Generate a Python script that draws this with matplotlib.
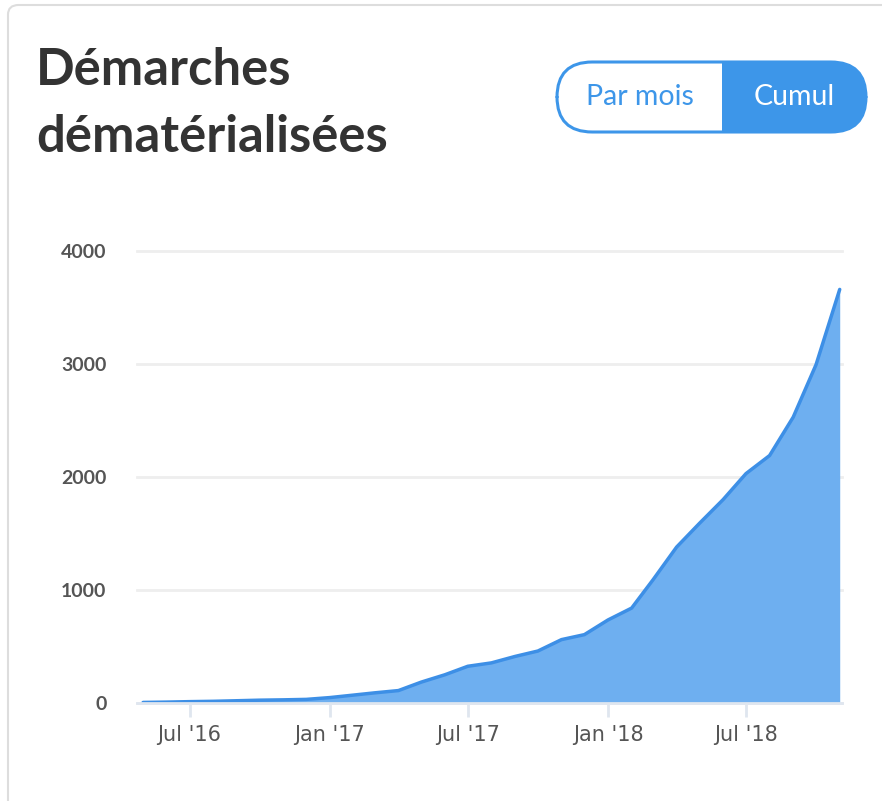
import datetime as dt
import matplotlib
matplotlib.use("Agg")
import matplotlib.pyplot as plt
import matplotlib.dates as mdates
from matplotlib.patches import FancyBboxPatch, Rectangle

# monthly cumulative counts, May 2016 -> Nov 2018
months = [dt.date(2016 + (4 + i) // 12, (4 + i) % 12 + 1, 1) for i in range(31)]
cumul = [5, 8, 12, 15, 20, 25, 28, 32,
         48, 70, 90, 110, 185, 250, 325, 355, 412, 460, 561, 605,
         735, 840, 1090, 1380, 1590, 1800, 2030, 2190, 2530, 2995, 3660]
yticks = [0, 1000, 2000, 3000, 4000]
xticks = [dt.date(2016, 7, 1), dt.date(2017, 1, 1), dt.date(2017, 7, 1),
          dt.date(2018, 1, 1), dt.date(2018, 7, 1)]
xlabels = ["Jul '16", "Jan '17", "Jul '17", "Jan '18", "Jul '18"]

W, H = 882, 801
fig = plt.figure(figsize=(W / 100, H / 100), dpi=100)
fig.patch.set_facecolor("white")
font = ["Lato", "DejaVu Sans"]

# card border
card = FancyBboxPatch((8 / W, 1 - 900 / H), 900 / W, 895 / H,
                      boxstyle="round,pad=0,rounding_size=0.012",
                      transform=fig.transFigure, facecolor="white",
                      edgecolor="#dddddd", linewidth=1.5, zorder=-5)
fig.patches.append(card)

fig.text(36 / W, 1 - 85 / H, "Démarches", fontsize=36.5, fontweight="bold",
         color="#333333", family=font, va="baseline")
fig.text(36 / W, 1 - 152 / H, "dématérialisées", fontsize=36.5, fontweight="bold",
         color="#333333", family=font, va="baseline")

# toggle button: blue pill, white left part clipped to the pill
blue = "#3d96e9"
pill = FancyBboxPatch((557 / W, 1 - 132 / H), 309 / W, 70 / H,
                      boxstyle="round,pad=0,rounding_size=0.04",
                      transform=fig.transFigure, facecolor=blue,
                      edgecolor="none", mutation_aspect=W / H)
fig.patches.append(pill)
left = Rectangle((550 / W, 1 - 140 / H), (722 - 550) / W, 90 / H,
                 transform=fig.transFigure, facecolor="white", edgecolor="none")
fig.patches.append(left)
left.set_clip_path(pill)
border = FancyBboxPatch((557 / W, 1 - 132 / H), 309 / W, 70 / H,
                        boxstyle="round,pad=0,rounding_size=0.04",
                        transform=fig.transFigure, facecolor="none",
                        edgecolor=blue, linewidth=2.2, mutation_aspect=W / H)
fig.patches.append(border)
fig.text(640 / W, 1 - 97 / H, "Par mois", fontsize=20.5, color=blue,
         family=font, ha="center", va="center")
fig.text(794 / W, 1 - 97 / H, "Cumul", fontsize=20.5, color="white",
         family=font, ha="center", va="center")

# chart
ax = fig.add_axes([137 / W, 1 - 703 / H, (842 - 137) / W, (703 - 251) / H])
ax.set_facecolor("none")
ax.fill_between(months, cumul, 0, color="#6eaff0", linewidth=0)
ax.plot(months, cumul, color="#3d8fe6", linewidth=2.5, solid_capstyle="round")
ax.set_xlim(dt.date(2016, 4, 23), dt.date(2018, 11, 4))
ax.set_ylim(0, 4000)
ax.set_yticks(yticks)
ax.set_yticklabels([str(v) for v in yticks], fontsize=14, color="#555555",
                   family=font, fontweight="bold")
ax.set_xticks([mdates.date2num(d) for d in xticks])
ax.set_xticklabels(xlabels, fontsize=15, color="#555555",
                   family=["Liberation Sans Narrow", "DejaVu Sans"])
ax.tick_params(axis="y", length=0, pad=22)
ax.tick_params(axis="x", length=10, width=2, color="#dfe6ef", pad=6)
ax.grid(axis="y", color="#eeeeee", linewidth=2)
ax.set_axisbelow(True)
for side in ["top", "right", "left"]:
    ax.spines[side].set_visible(False)
ax.spines["bottom"].set_color("#dfe6ef")
ax.spines["bottom"].set_linewidth(2)
for line in ax.get_ygridlines():
    line.set_clip_on(False)

fig.savefig("out.png", dpi=100)
